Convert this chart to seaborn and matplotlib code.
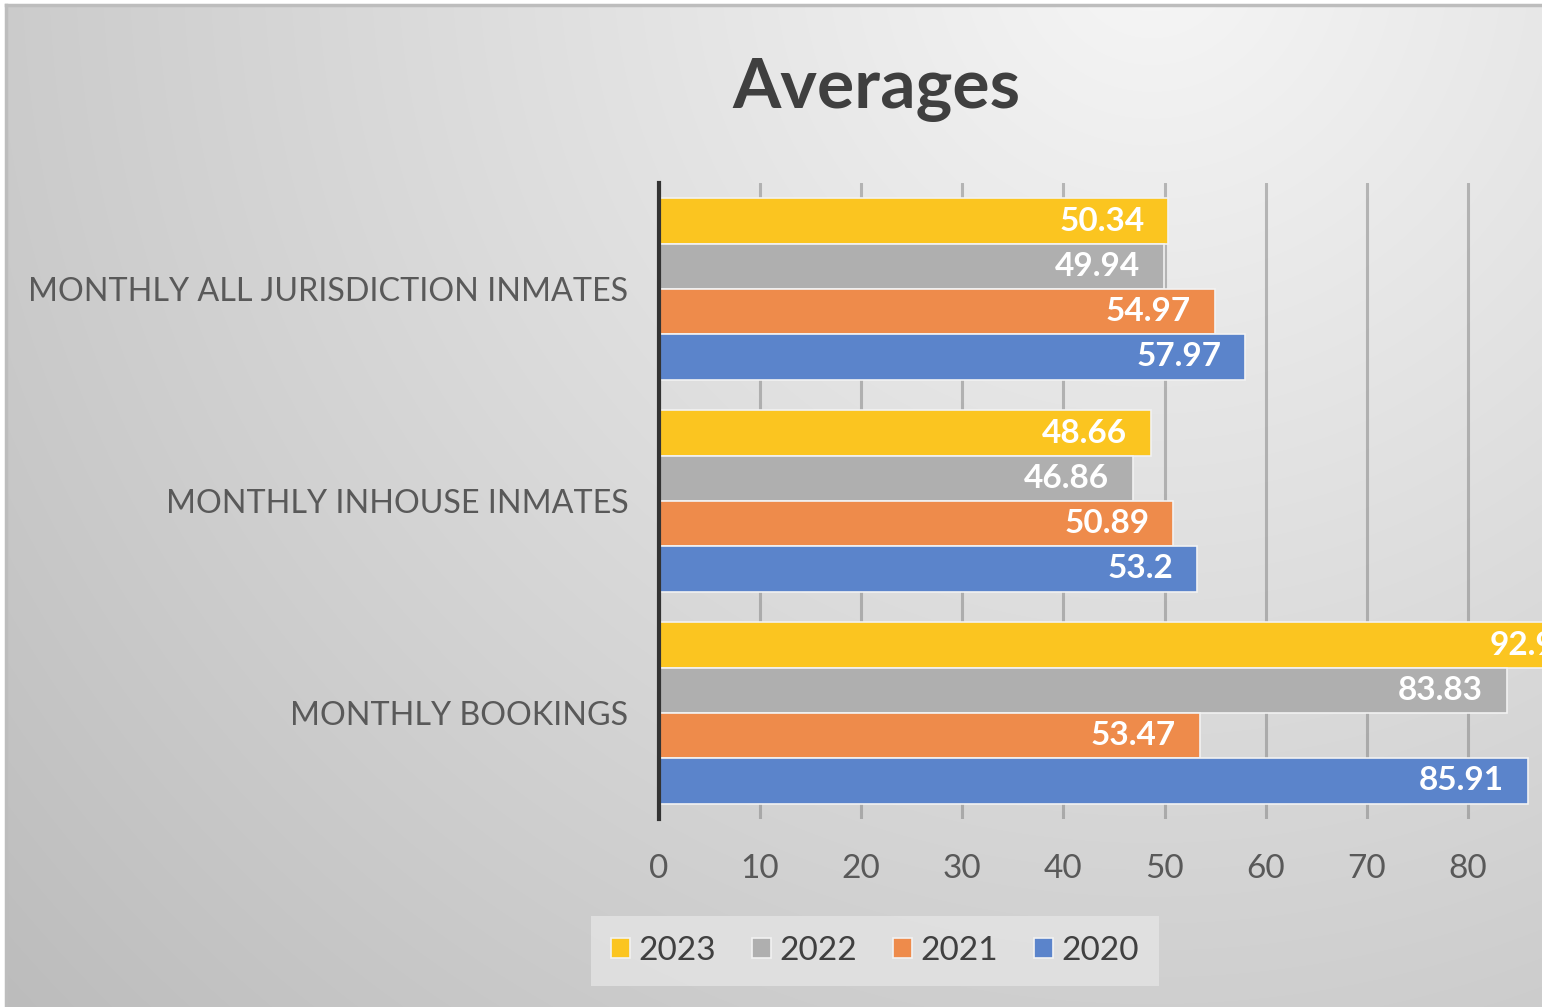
import numpy as np
import pandas as pd
import matplotlib
matplotlib.use("Agg")
import matplotlib.pyplot as plt
import seaborn as sns

# ---- data ----
categories = ["MONTHLY ALL JURISDICTION INMATES", "MONTHLY INHOUSE INMATES", "MONTHLY BOOKINGS"]
years = ["2023", "2022", "2021", "2020"]
values_2023 = [50.34, 48.66, 92.94]
values_2022 = [49.94, 46.86, 83.83]
values_2021 = [54.97, 50.89, 53.47]
values_2020 = [57.97, 53.2, 85.91]
x_ticks = [0, 10, 20, 30, 40, 50, 60, 70, 80]
title = "Averages"

series = {"2023": values_2023, "2022": values_2022, "2021": values_2021, "2020": values_2020}
rows = []
for yr in years:
    for cat, v in zip(categories, series[yr]):
        rows.append({"category": cat, "year": yr, "value": v})
df = pd.DataFrame(rows)

palette = {"2023": "#FBC520", "2022": "#AFAFAF", "2021": "#EE8B4B", "2020": "#5B84CB"}

sns.set_theme(style="white")
plt.rcParams["font.family"] = ["Lato", "DejaVu Sans"]

W, H = 1542, 1007
fig = plt.figure(figsize=(W / 100, H / 100), dpi=100, facecolor="white")

# ---- background gradient ----
bg = fig.add_axes([6 / W, 0, 1 - 6 / W, 1 - 5 / H], zorder=-10)
yy, xx = np.mgrid[0:H, 0:W]
d = np.sqrt(((xx - 1150) / 1.0) ** 2 + ((yy + 50) / 1.0) ** 2)
v = np.clip(0.965 - 0.16 * (d / 1100.0), 0.74, 0.96)
bg.imshow(np.dstack([v, v, v]), aspect="auto", extent=[0, 1, 0, 1], interpolation="bilinear")
bg.set_xlim(0, 1)
bg.set_ylim(0, 1)
bg.set_xticks([])
bg.set_yticks([])
for s in ["right", "bottom"]:
    bg.spines[s].set_visible(False)
for s in ["top", "left"]:
    bg.spines[s].set_color("#BDBDBD")
    bg.spines[s].set_linewidth(2.5)

# ---- main axes ----
x_left, x_unit = 659, 10.11
xmax = 90
ax = fig.add_axes([x_left / W, 1 - 819 / H, xmax * x_unit / W, 636 / H])
ax.patch.set_alpha(0)

sns.barplot(data=df, y="category", x="value", hue="year", order=categories,
            hue_order=years, palette=palette, orient="h", width=0.855,
            saturation=1, edgecolor="#F2F2F2", linewidth=1.2, ax=ax, zorder=3)

ax.set_xlim(0, xmax)
ax.set_xticks(x_ticks)
ax.set_xlabel("")
ax.set_ylabel("")
ax.grid(axis="x", color="#7F7F7F", alpha=0.5, linewidth=2.2, zorder=0)
ax.set_axisbelow(True)
for s in ["top", "right", "bottom"]:
    ax.spines[s].set_visible(False)
ax.spines["left"].set_color("#333333")
ax.spines["left"].set_linewidth(3)
ax.spines["left"].set_zorder(5)

ax.tick_params(axis="x", length=0, pad=25, labelsize=24, labelcolor="#595959")
ax.tick_params(axis="y", length=0, pad=22, labelsize=23.2, labelcolor="#595959")

# data labels
for cont, yr in zip(ax.containers, years):
    for p, val in zip(cont.patches, series[yr]):
        ax.annotate(f"{val:g}", xy=(p.get_width(), p.get_y() + p.get_height() / 2),
                    xytext=(-17, 0), textcoords="offset points", ha="right", va="center",
                    color="white", fontsize=24, fontweight="bold", zorder=6,
                    annotation_clip=False)

# legend
handles, labels = ax.get_legend_handles_labels()
ax.get_legend().remove()
leg = fig.legend(handles, labels, loc="center", bbox_to_anchor=(875 / W, 1 - 951 / H),
                 ncol=4, frameon=True, fontsize=24, handlelength=0.55, handleheight=0.55,
                 handletextpad=0.25, columnspacing=1.1, borderpad=0.6, fancybox=False)
leg.get_frame().set_facecolor("#E4E4E4")
leg.get_frame().set_edgecolor("none")
for t in leg.get_texts():
    t.set_color("#404040")

fig.text(876 / W, 1 - 90 / H, title, ha="center", va="center", fontsize=50,
         fontweight="bold", color="#3F3F3F")

fig.savefig("out.png", dpi=100)
